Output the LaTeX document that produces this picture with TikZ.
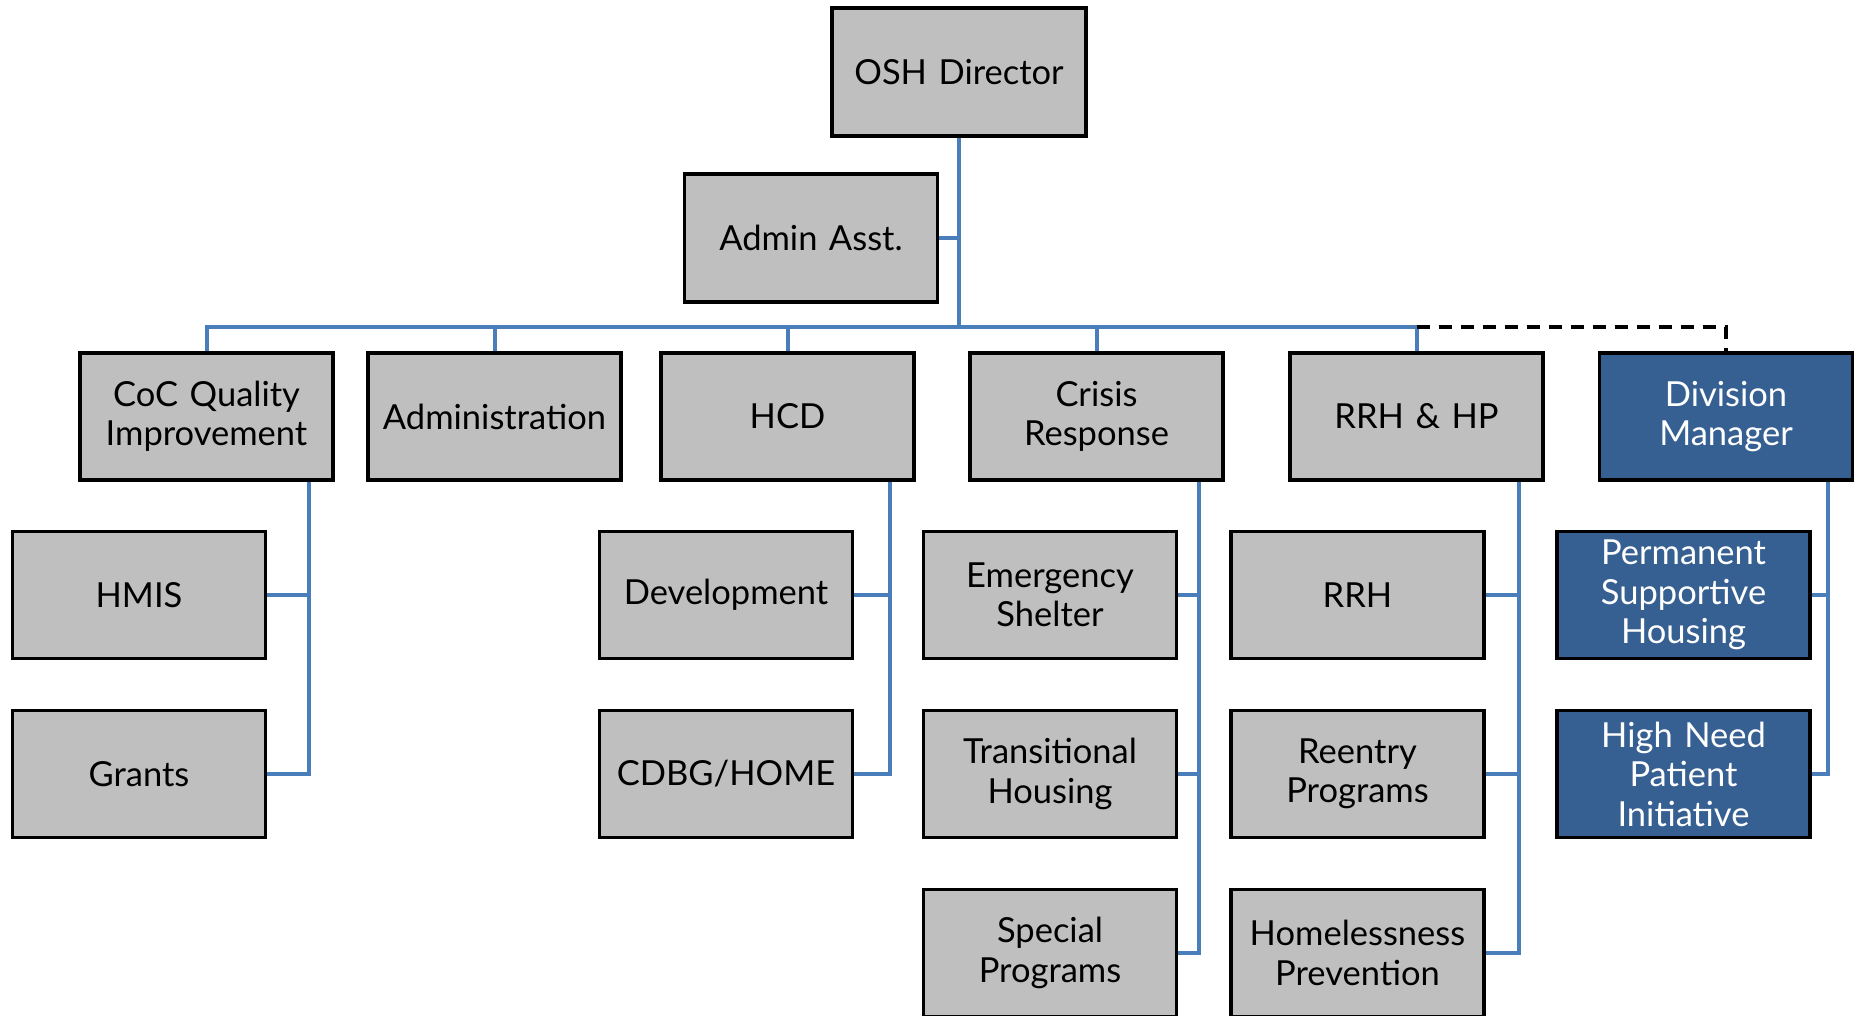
\documentclass[tikz,border=0pt]{standalone}
\usepackage{fontspec}
\setmainfont{Lato}
\definecolor{boxgray}{RGB}{191,191,191}
\definecolor{boxblue}{RGB}{55,96,146}
\definecolor{linkblue}{RGB}{74,126,187}
\begin{document}
\begin{tikzpicture}[x=1pt,y=-1pt,
  box/.style={draw=black, line width=3.6pt, fill=boxgray, minimum width=253pt, minimum height=127pt,
    inner sep=0pt, align=center, text width=240pt, font=\fontsize{34.5}{39.5}\selectfont},
  bluebox/.style={box, fill=boxblue, text=white},
  conn/.style={draw=linkblue, line width=4pt},
  dotconn/.style={draw=black, line width=3.6pt, dash pattern=on 13pt off 9pt}]
\useasboundingbox (0,0) rectangle (1854,1016);
\fill[white] (0,0) rectangle (1854,1016);
% top
\node[box, minimum width=254pt, minimum height=128pt] (osh) at (959,72) {OSH Director};
\node[box, minimum height=128pt] (admin) at (811,238) {Admin Asst.};
% row 1
\node[box] (coc) at (206.5,416.5) {CoC Quality\\Improvement};
\node[box] (adm) at (494.5,416.5) {Administration};
\node[box] (hcd) at (787.5,416.5) {HCD};
\node[box] (crisis) at (1096.5,416.5) {Crisis\\Response};
\node[box] (rrhhp) at (1416.5,416.5) {RRH \& HP};
\node[bluebox] (div) at (1726,416.5) {Division\\Manager};
% row 2
\node[box] (hmis) at (139,595) {HMIS};
\node[box] (dev) at (726,595) {Development};
\node[box] (es) at (1050,595) {Emergency\\Shelter};
\node[box] (rrh) at (1357.5,595) {RRH};
\node[bluebox] (psh) at (1683.5,595) {Permanent\\Supportive\\Housing};
% row 3
\node[box] (grants) at (139,774) {Grants};
\node[box] (cdbg) at (726,774) {CDBG/HOME};
\node[box] (th) at (1050,774) {Transitional\\Housing};
\node[box] (reentry) at (1357.5,774) {Reentry\\Programs};
\node[bluebox] (hnpi) at (1683.5,774) {High Need\\Patient\\Initiative};
% row 4
\node[box] (sp) at (1050,953) {Special\\Programs};
\node[box] (hp) at (1357.5,953) {Homelessness\\Prevention};
% bus
\coordinate (bus) at (959,327);
\draw[conn] (osh.south) -- (bus);
\draw[conn] (admin.east) -- (admin.east -| osh.south);
\draw[conn] (coc.north) -- (coc.north |- bus) -- (rrhhp.north |- bus) -- (rrhhp.north);
\draw[conn] (adm.north) -- (adm.north |- bus);
\draw[conn] (hcd.north) -- (hcd.north |- bus);
\draw[conn] (crisis.north) -- (crisis.north |- bus);
\draw[dotconn] (rrhhp.north |- bus) -| (div.north);
% children
\draw[conn] ([xshift=-26pt]coc.south east) |- (hmis.east);
\draw[conn] ([xshift=-26pt]coc.south east) |- (grants.east);
\draw[conn] ([xshift=-26pt]hcd.south east) |- (dev.east);
\draw[conn] ([xshift=-26pt]hcd.south east) |- (cdbg.east);
\draw[conn] ([xshift=-26pt]crisis.south east) |- (es.east);
\draw[conn] ([xshift=-26pt]crisis.south east) |- (th.east);
\draw[conn] ([xshift=-26pt]crisis.south east) |- (sp.east);
\draw[conn] ([xshift=-26pt]rrhhp.south east) |- (rrh.east);
\draw[conn] ([xshift=-26pt]rrhhp.south east) |- (reentry.east);
\draw[conn] ([xshift=-26pt]rrhhp.south east) |- (hp.east);
\draw[conn] ([xshift=-26pt]div.south east) |- (psh.east);
\draw[conn] ([xshift=-26pt]div.south east) |- (hnpi.east);
\end{tikzpicture}
\end{document}
